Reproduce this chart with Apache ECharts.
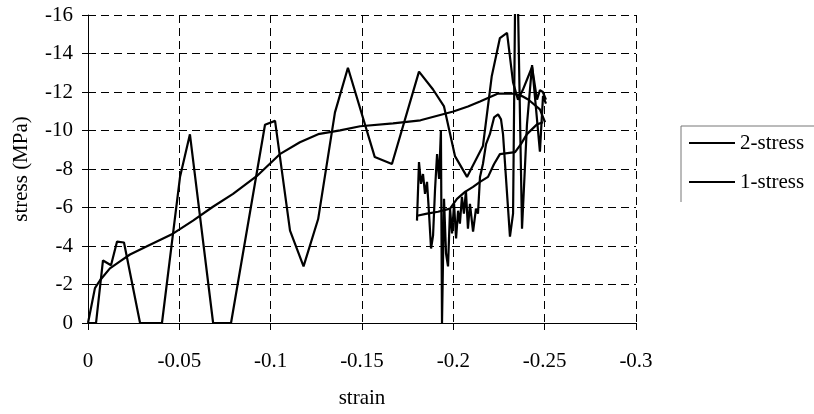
<!DOCTYPE html>
<html>
<head>
<meta charset="utf-8">
<script src="https://cdn.jsdelivr.net/npm/echarts@6/dist/echarts.min.js"></script>
<style>
  html, body { margin: 0; padding: 0; background: #fff; }
  #chart { width: 814px; height: 414px; }
</style>
</head>
<body>
<div id="chart"></div>
<script>
// Axis ticks (strain and stress are both plotted as negative, compressive values)
const strainTicks = [0, -0.05, -0.1, -0.15, -0.2, -0.25, -0.3];
const stressTicks = [0, -2, -4, -6, -8, -10, -12, -14, -16];

// Legend entries
const seriesNames = ['2-stress', '1-stress'];

// 2-stress, full range: smooth record [strain, stress MPa]
const stress2Smooth = [
  [0, 0], [-0.0038, -1.81], [-0.0066, -2.22], [-0.012, -2.84], [-0.0175, -3.2],
  [-0.023, -3.56], [-0.032, -3.97], [-0.0465, -4.64], [-0.0575, -5.32], [-0.0684, -6.04],
  [-0.0794, -6.71], [-0.0925, -7.64], [-0.105, -8.77], [-0.116, -9.39], [-0.126, -9.81],
  [-0.138, -10.01], [-0.149, -10.22], [-0.167, -10.37], [-0.182, -10.53], [-0.2, -10.99],
  [-0.208, -11.25], [-0.2146, -11.51], [-0.2245, -11.92], [-0.2327, -11.92], [-0.238, -11.77],
  [-0.241, -11.61], [-0.2474, -11.1], [-0.2502, -10.43]
];

// 2-stress, full range: oscillating record
const stress2Rough = [
  [0, 0], [-0.0044, 0], [-0.0082, -3.25], [-0.0126, -3.0], [-0.0159, -4.23],
  [-0.0197, -4.18], [-0.0285, 0], [-0.0405, 0], [-0.0504, -7.6], [-0.0558, -9.8],
  [-0.0685, 0], [-0.0783, 0], [-0.0969, -10.3], [-0.1024, -10.5], [-0.1106, -4.8],
  [-0.118, -2.94], [-0.126, -5.4], [-0.1352, -10.94], [-0.1423, -13.26], [-0.157, -8.62],
  [-0.1664, -8.26], [-0.1812, -13.06], [-0.1889, -12.13], [-0.1949, -11.25], [-0.2009, -8.67],
  [-0.2075, -7.59], [-0.2162, -9.19], [-0.221, -12.8], [-0.2255, -14.8], [-0.2294, -15.07],
  [-0.2327, -12.5], [-0.2354, -11.6], [-0.238, -12.1], [-0.2431, -13.3], [-0.2458, -11.6],
  [-0.2474, -12.1], [-0.249, -12.0], [-0.2507, -11.6]
];

// 1-stress, late range: smooth record
const stress1Smooth = [
  [-0.1801, -5.57], [-0.1856, -5.68], [-0.1916, -5.78], [-0.1982, -5.94], [-0.202, -6.45],
  [-0.2064, -6.81], [-0.2108, -7.07], [-0.2146, -7.33], [-0.219, -7.59], [-0.2223, -8.26],
  [-0.2255, -8.77], [-0.2338, -8.88], [-0.237, -9.29], [-0.2403, -9.81], [-0.2458, -10.32],
  [-0.2491, -10.43]
];

// 1-stress, late range: noisy record
const stress1Rough = [
  [-0.1801, -5.32], [-0.1812, -8.36], [-0.1823, -7.23], [-0.1834, -7.74], [-0.1845, -6.71],
  [-0.1856, -7.33], [-0.1867, -5.68], [-0.1878, -3.87], [-0.1889, -4.54], [-0.19, -6.97],
  [-0.1911, -8.77], [-0.1922, -7.48], [-0.1932, -10.01], [-0.1938, 0], [-0.1949, -6.45],
  [-0.196, -3.61], [-0.1971, -2.94], [-0.1982, -5.94], [-0.1993, -4.65], [-0.2004, -6.19],
  [-0.2015, -4.39], [-0.2026, -5.83], [-0.2036, -5.16], [-0.2047, -6.55], [-0.2058, -5.68],
  [-0.2069, -6.86], [-0.208, -4.9], [-0.2091, -6.19], [-0.2108, -4.75], [-0.2124, -5.94],
  [-0.2135, -5.68], [-0.2146, -7.59], [-0.2162, -8.26], [-0.2179, -9.29], [-0.22, -9.81],
  [-0.2223, -10.68], [-0.2245, -10.84], [-0.2261, -10.58], [-0.2272, -9.81], [-0.231, -4.49],
  [-0.2327, -5.68], [-0.2338, -16.5], [-0.2354, -16.5], [-0.2376, -4.9], [-0.2403, -10.3],
  [-0.2431, -13.4], [-0.2453, -11.1], [-0.2474, -8.9], [-0.2491, -11.8], [-0.2507, -11.4]
];

const serif = '"Liberation Serif", "Times New Roman", serif';
const ink = '#000';

function lineSeries(name, data) {
  return {
    name: name,
    type: 'line',
    data: data,
    symbol: 'none',
    clip: true,
    lineStyle: { color: ink, width: 2.2 },
    itemStyle: { color: ink }
  };
}

const chart = echarts.init(document.getElementById('chart'), null, { renderer: 'canvas' });
chart.setOption({
  animation: false,
  backgroundColor: '#fff',
  textStyle: { fontFamily: serif, color: ink },
  grid: { left: 88, top: 15, width: 548, height: 310, containLabel: false },
  xAxis: {
    type: 'value',
    inverse: true,
    min: Math.min(...strainTicks),
    max: Math.max(...strainTicks),
    interval: 0.05,
    name: 'strain',
    nameLocation: 'middle',
    nameGap: 65,
    nameTextStyle: { fontFamily: serif, fontSize: 21, color: ink },
    axisLine: { onZero: false, lineStyle: { color: ink, width: 1 } },
    axisTick: { show: true, length: 7, lineStyle: { color: ink } },
    axisLabel: { fontFamily: serif, fontSize: 21, color: ink, margin: 28 },
    splitLine: { show: true, lineStyle: { color: ink, width: 1, type: [8, 5] } }
  },
  yAxis: {
    type: 'value',
    inverse: true,
    min: Math.min(...stressTicks),
    max: Math.max(...stressTicks),
    interval: 2,
    name: 'stress (MPa)',
    nameLocation: 'middle',
    nameGap: 56,
    nameRotate: 90,
    nameTextStyle: { fontFamily: serif, fontSize: 21, color: ink },
    axisLine: { show: true, onZero: false, lineStyle: { color: ink, width: 1 } },
    axisTick: { show: true, length: 6, lineStyle: { color: ink } },
    axisLabel: { fontFamily: serif, fontSize: 21, color: ink, margin: 15 },
    splitLine: { show: true, lineStyle: { color: ink, width: 1, type: [8, 5] } }
  },
  legend: {
    data: seriesNames,
    orient: 'vertical',
    left: 681,
    top: 126,
    padding: [6, 4, 6, 8],
    icon: 'rect',
    itemWidth: 46,
    itemHeight: 2,
    itemGap: 17,
    itemStyle: { color: ink, borderWidth: 0 },
    textStyle: { fontFamily: serif, fontSize: 21, color: ink, lineHeight: 22 }
  },
  graphic: [{
    type: 'polyline',
    shape: { points: [[681, 202], [681, 126], [814, 126]] },
    style: { stroke: '#777', lineWidth: 1, fill: null },
    silent: true
  }],
  series: [
    lineSeries(seriesNames[0], stress2Smooth),
    lineSeries(seriesNames[0], stress2Rough),
    lineSeries(seriesNames[1], stress1Smooth),
    lineSeries(seriesNames[1], stress1Rough)
  ]
});
</script>
</body>
</html>
